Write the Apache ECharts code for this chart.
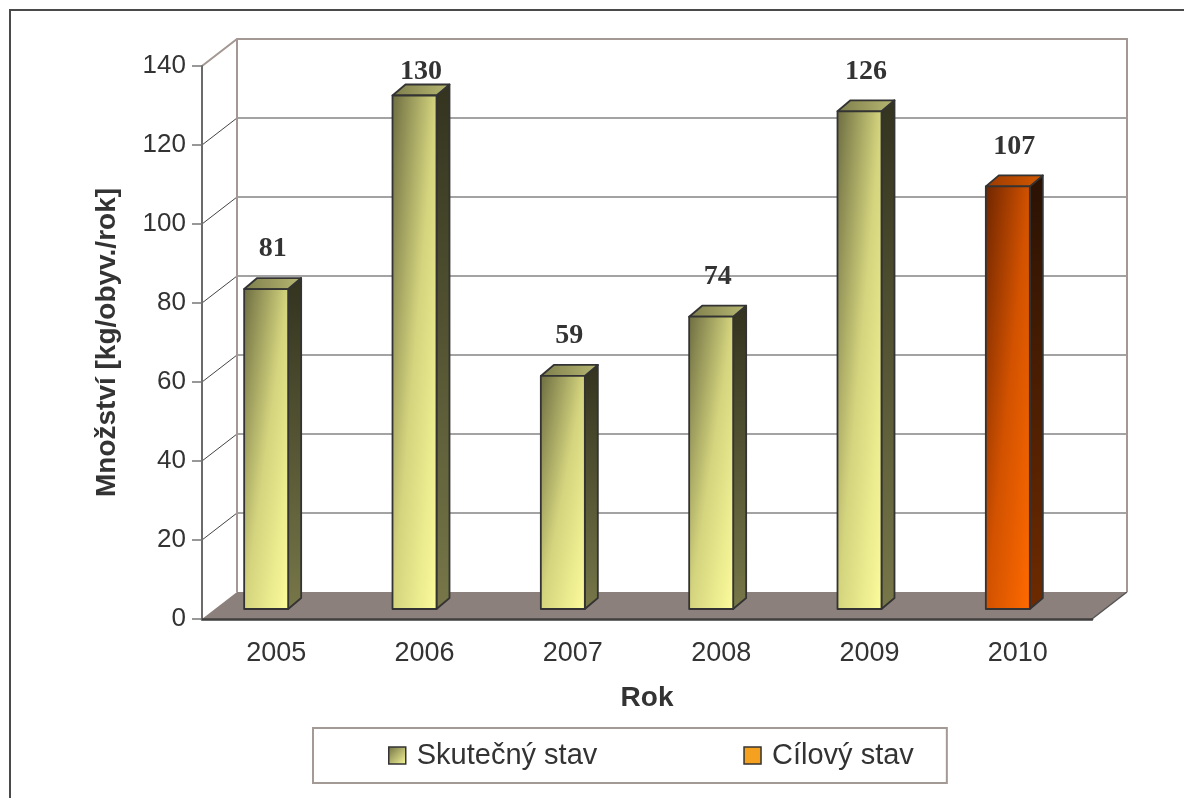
<!DOCTYPE html>
<html>
<head>
<meta charset="utf-8">
<script src="https://cdn.jsdelivr.net/npm/echarts@6/dist/echarts.min.js"></script>
<style>
  html, body { margin: 0; padding: 0; background: #fff; }
  #chart { width: 1184px; height: 798px; }
</style>
</head>
<body>
<div id="chart"></div>
<script>
// data
const years = ['2005', '2006', '2007', '2008', '2009', '2010'];
const actual = [81, 130, 59, 74, 126, null];   // Skutečný stav
const target = [null, null, null, null, null, 107]; // Cílový stav
const yTicks = [0, 20, 40, 60, 80, 100, 120, 140];

// pseudo 3D geometry (pixels)
const DEPTH_X = 35, DEPTH_Y = -27;   // back wall offset from the front plane
const BAR_SHIFT_Y = -10;             // bars stand a bit back on the floor
const BAR_LEFT = -32, BAR_W = 44;    // front face relative to category center
const SIDE_X = 13, SIDE_Y = -11;     // bar depth

const LG = echarts.graphic.LinearGradient;

// diagonal shading of a box: dark top-left corner, light bottom-right corner
function diagGradient(x, y, w, h, stops) {
  const k = 2 * w * h / (w * w + h * h);
  return new LG(x, y, x + h * k, y + w * k, stops, true);
}

const olive = {
  front: ['#6e6e42', '#d4d47e', '#fcfc9c'],
  side: ['#33331f', '#777749'],
  top: ['#7d7d4c', '#b8b872'],
};
const orange = {
  front: ['#702600', '#d25200', '#ff6a00'],
  side: ['#2a1204', '#6e2a00'],
  top: ['#9c3a00', '#d45a00'],
};

function barRenderer(pal) {
  return function (params, api) {
    const v = api.value(1);
    if (v == null || isNaN(v)) return null;
    const idx = api.value(0);
    const top = api.coord([idx, v]);
    const base = api.coord([idx, 0]);
    const x0 = top[0] + BAR_LEFT, x1 = x0 + BAR_W;
    const yT = top[1] + BAR_SHIFT_Y, yB = base[1] + BAR_SHIFT_Y;
    const h = yB - yT;
    const stroke = { stroke: '#333', lineWidth: 1.8, lineJoin: 'round' };
    const labelY = Math.max(yT - 40, params.coordSys.y + 6);
    return {
      type: 'group',
      children: [
        { type: 'polygon', shape: { points: [[x1, yT], [x1 + SIDE_X, yT + SIDE_Y], [x1 + SIDE_X, yB + SIDE_Y], [x1, yB]] },
          style: Object.assign({ fill: new LG(0, 0, 0, 1, [{ offset: 0, color: pal.side[0] }, { offset: 1, color: pal.side[1] }]) }, stroke) },
        { type: 'polygon', shape: { points: [[x0, yT], [x0 + SIDE_X, yT + SIDE_Y], [x1 + SIDE_X, yT + SIDE_Y], [x1, yT]] },
          style: Object.assign({ fill: new LG(0, 0, 1, 0, [{ offset: 0, color: pal.top[0] }, { offset: 1, color: pal.top[1] }]) }, stroke) },
        { type: 'rect', shape: { x: x0, y: yT, width: BAR_W, height: h },
          style: Object.assign({ fill: diagGradient(x0, yT, BAR_W, h, [
            { offset: 0, color: pal.front[0] }, { offset: 0.5, color: pal.front[1] }, { offset: 1, color: pal.front[2] }]) }, stroke) },
        { type: 'text', style: {
            x: x0 + (BAR_W + SIDE_X) / 2, y: labelY, text: String(v),
            align: 'center', verticalAlign: 'middle',
            font: 'bold 28px "Liberation Serif", "Times New Roman", serif', fill: '#333' } }
      ]
    };
  };
}

// back wall, left wall and floor
function wallRenderer(params, api) {
  const v = api.value(1);
  const cs = params.coordSys;
  const xl = cs.x, xr = cs.x + cs.width;
  const y = api.coord([0, v])[1];
  const y0 = api.coord([0, 0])[1];
  const edge = '#a39893';
  const children = [];
  if (v === 0) {
    children.push({ type: 'polygon',
      shape: { points: [[xl, y0], [xr, y0], [xr + DEPTH_X, y0 + DEPTH_Y], [xl + DEPTH_X, y0 + DEPTH_Y]] },
      style: { fill: '#8c807c' } });
    children.push({ type: 'line', shape: { x1: xr, y1: y0, x2: xr + DEPTH_X, y2: y0 + DEPTH_Y },
      style: { stroke: '#555', lineWidth: 1.5 } });
  } else if (v === yTicks[yTicks.length - 1]) {
    children.push({ type: 'polyline',
      shape: { points: [[xl, y], [xl + DEPTH_X, y + DEPTH_Y], [xr + DEPTH_X, y + DEPTH_Y], [xr + DEPTH_X, y0 + DEPTH_Y]] },
      style: { stroke: edge, lineWidth: 2, fill: null } });
    children.push({ type: 'line', shape: { x1: xl + DEPTH_X, y1: y + DEPTH_Y, x2: xl + DEPTH_X, y2: y0 + DEPTH_Y },
      style: { stroke: edge, lineWidth: 2 } });
  } else {
    children.push({ type: 'line', shape: { x1: xl, y1: y, x2: xl + DEPTH_X, y2: y + DEPTH_Y },
      style: { stroke: '#444', lineWidth: 1 } });
    children.push({ type: 'line', shape: { x1: xl + DEPTH_X, y1: y + DEPTH_Y, x2: xr + DEPTH_X, y2: y + DEPTH_Y },
      style: { stroke: '#858585', lineWidth: 1.5 } });
  }
  return { type: 'group', children };
}

const chart = echarts.init(document.getElementById('chart'), null, { renderer: 'canvas' });

chart.setOption({
  animation: false,
  backgroundColor: '#fff',
  textStyle: { fontFamily: '"Liberation Sans", Arial, sans-serif' },
  graphic: [{
    type: 'rect', silent: true, z: 100,
    shape: { x: 10, y: 10, width: 1300, height: 900 },
    style: { fill: null, stroke: '#4a4a4a', lineWidth: 2 }
  }],
  grid: { left: 202, top: 66, width: 890, height: 553 },
  xAxis: {
    type: 'category',
    data: years,
    z: 10,
    name: 'Rok',
    nameLocation: 'middle',
    nameGap: 65,
    nameTextStyle: { fontSize: 28, fontWeight: 'bold', color: '#333' },
    axisLine: { lineStyle: { color: '#3f3f3f', width: 2.5 } },
    axisTick: { length: 10, lineStyle: { color: '#666', width: 1.5 } },
    axisLabel: { fontSize: 27, color: '#333', margin: 21 },
    splitLine: { show: false }
  },
  yAxis: {
    type: 'value',
    min: 0, max: 140, interval: 20,
    z: 10,
    name: 'Množství [kg/obyv./rok]',
    nameLocation: 'middle',
    nameGap: 81,
    nameTextStyle: { fontSize: 28, fontWeight: 'bold', color: '#333' },
    axisLine: { show: true, lineStyle: { color: '#6b6b6b', width: 2 } },
    axisTick: { show: true, length: 10, lineStyle: { color: '#777', width: 1.5 } },
    axisLabel: { fontSize: 26, color: '#333', margin: 16 },
    splitLine: { show: false }
  },
  legend: {
    left: 313, top: 728,
    padding: [13, 33, 13, 75],
    itemGap: 146, itemWidth: 17, itemHeight: 17,
    borderColor: '#a39995', borderWidth: 2,
    textStyle: { fontSize: 29, color: '#333', lineHeight: 28, padding: [0, 0, 0, 6] },
    data: [
      { name: 'Skutečný stav', icon: 'rect',
        itemStyle: { color: new LG(0, 0, 1, 1, [{ offset: 0, color: '#6e6e42' }, { offset: 1, color: '#fcfc9c' }]),
                     borderColor: '#333', borderWidth: 1.5 } },
      { name: 'Cílový stav', icon: 'rect',
        itemStyle: { color: '#f5a01e', borderColor: '#333', borderWidth: 1.5 } }
    ]
  },
  series: [
    {
      type: 'custom', name: 'walls', z: 1, silent: true,
      renderItem: wallRenderer,
      data: yTicks.map(v => [0, v])
    },
    {
      type: 'custom', name: 'Skutečný stav', z: 2,
      renderItem: barRenderer(olive),
      data: actual.map((v, i) => [i, v])
    },
    {
      type: 'custom', name: 'Cílový stav', z: 2,
      renderItem: barRenderer(orange),
      data: target.map((v, i) => [i, v])
    }
  ]
});
</script>
</body>
</html>
